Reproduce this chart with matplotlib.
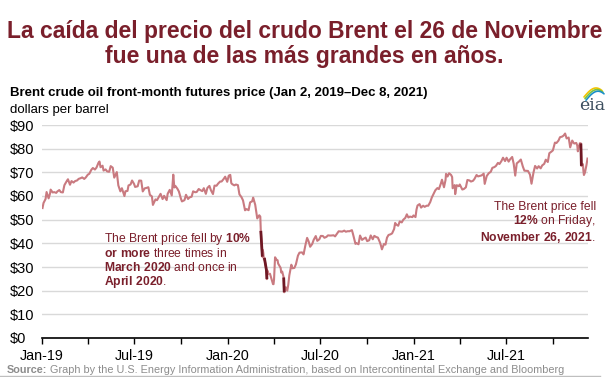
# libraries
import numpy as np
import pandas as pd
import matplotlib
matplotlib.use("Agg")
import matplotlib.pyplot as plt
import matplotlib.dates as mdates
from matplotlib.lines import Line2D

plt.rcParams['font.family'] = ['Liberation Sans', 'DejaVu Sans']
plt.rcParams['mathtext.fontset'] = 'custom'
plt.rcParams['mathtext.rm'] = 'Liberation Sans'
plt.rcParams['mathtext.bf'] = 'Liberation Sans:bold'

# Brent front-month price (dollars per barrel)
dates = [
    "2019-01-02", "2019-01-04", "2019-01-08", "2019-01-10", "2019-01-14", "2019-01-17", "2019-01-18",
    "2019-01-22", "2019-01-25", "2019-01-29", "2019-01-31", "2019-02-04", "2019-02-07", "2019-02-11",
    "2019-02-14", "2019-02-19", "2019-02-21", "2019-02-25", "2019-02-28", "2019-03-04", "2019-03-07",
    "2019-03-11", "2019-03-14", "2019-03-18", "2019-03-21", "2019-03-25", "2019-03-28", "2019-04-01",
    "2019-04-04", "2019-04-08", "2019-04-11", "2019-04-15", "2019-04-18", "2019-04-22", "2019-04-24",
    "2019-04-26", "2019-04-30", "2019-05-02", "2019-05-06", "2019-05-09", "2019-05-13", "2019-05-16",
    "2019-05-20", "2019-05-23", "2019-05-28", "2019-05-31", "2019-06-04", "2019-06-07", "2019-06-12",
    "2019-06-14", "2019-06-18", "2019-06-20", "2019-06-24", "2019-06-27", "2019-07-01", "2019-07-03",
    "2019-07-08", "2019-07-11", "2019-07-15", "2019-07-18", "2019-07-22", "2019-07-25", "2019-07-29",
    "2019-08-01", "2019-08-05", "2019-08-07", "2019-08-12", "2019-08-15", "2019-08-19", "2019-08-22",
    "2019-08-26", "2019-08-29", "2019-09-03", "2019-09-05", "2019-09-09", "2019-09-13", "2019-09-16",
    "2019-09-18", "2019-09-20", "2019-09-24", "2019-09-27", "2019-10-01", "2019-10-03", "2019-10-08",
    "2019-10-11", "2019-10-15", "2019-10-18", "2019-10-22", "2019-10-25", "2019-10-29", "2019-11-01",
    "2019-11-05", "2019-11-08", "2019-11-12", "2019-11-15", "2019-11-19", "2019-11-22", "2019-11-26",
    "2019-11-29", "2019-12-03", "2019-12-06", "2019-12-10", "2019-12-13", "2019-12-17", "2019-12-20",
    "2019-12-24", "2019-12-27", "2019-12-31",
    "2020-01-03", "2020-01-06", "2020-01-08", "2020-01-10", "2020-01-14", "2020-01-17", "2020-01-21",
    "2020-01-24", "2020-01-28", "2020-01-31", "2020-02-04", "2020-02-07", "2020-02-11", "2020-02-14",
    "2020-02-18", "2020-02-20", "2020-02-24", "2020-02-27", "2020-02-28", "2020-03-03", "2020-03-05",
    "2020-03-06", "2020-03-09", "2020-03-10", "2020-03-11", "2020-03-12", "2020-03-13", "2020-03-16",
    "2020-03-17", "2020-03-18", "2020-03-19", "2020-03-20", "2020-03-24", "2020-03-27", "2020-03-30",
    "2020-03-31", "2020-04-01", "2020-04-02", "2020-04-03", "2020-04-06", "2020-04-08", "2020-04-09",
    "2020-04-14", "2020-04-15", "2020-04-17", "2020-04-20", "2020-04-21", "2020-04-22", "2020-04-24",
    "2020-04-27", "2020-04-29", "2020-05-01", "2020-05-05", "2020-05-07", "2020-05-11", "2020-05-14",
    "2020-05-18", "2020-05-21", "2020-05-26", "2020-05-29", "2020-06-02", "2020-06-05", "2020-06-08",
    "2020-06-11", "2020-06-15", "2020-06-18", "2020-06-22", "2020-06-25", "2020-06-29", "2020-07-02",
    "2020-07-06", "2020-07-09", "2020-07-13", "2020-07-16", "2020-07-20", "2020-07-23", "2020-07-27",
    "2020-07-30", "2020-08-03", "2020-08-06", "2020-08-10", "2020-08-13", "2020-08-17", "2020-08-20",
    "2020-08-24", "2020-08-27", "2020-09-01", "2020-09-03", "2020-09-08", "2020-09-10", "2020-09-14",
    "2020-09-17", "2020-09-21", "2020-09-24", "2020-09-28", "2020-10-01", "2020-10-05", "2020-10-08",
    "2020-10-12", "2020-10-15", "2020-10-19", "2020-10-22", "2020-10-26", "2020-10-28", "2020-10-30",
    "2020-11-03", "2020-11-06", "2020-11-09", "2020-11-12", "2020-11-16", "2020-11-19", "2020-11-23",
    "2020-11-25", "2020-11-27", "2020-12-01", "2020-12-04", "2020-12-08", "2020-12-11", "2020-12-15",
    "2020-12-18", "2020-12-21", "2020-12-24", "2020-12-29", "2020-12-31",
    "2021-01-04", "2021-01-06", "2021-01-08", "2021-01-12", "2021-01-15", "2021-01-19", "2021-01-22",
    "2021-01-26", "2021-01-29", "2021-02-02", "2021-02-05", "2021-02-09", "2021-02-12", "2021-02-16",
    "2021-02-19", "2021-02-23", "2021-02-25", "2021-03-01", "2021-03-04", "2021-03-05", "2021-03-08",
    "2021-03-11", "2021-03-15", "2021-03-17", "2021-03-18", "2021-03-22", "2021-03-23", "2021-03-26",
    "2021-03-30", "2021-04-01", "2021-04-06", "2021-04-09", "2021-04-13", "2021-04-16", "2021-04-20",
    "2021-04-23", "2021-04-27", "2021-04-30", "2021-05-04", "2021-05-07", "2021-05-11", "2021-05-14",
    "2021-05-18", "2021-05-20", "2021-05-24", "2021-05-28", "2021-06-01", "2021-06-04", "2021-06-08",
    "2021-06-11", "2021-06-15", "2021-06-18", "2021-06-22", "2021-06-25", "2021-06-29", "2021-07-02",
    "2021-07-06", "2021-07-09", "2021-07-13", "2021-07-16", "2021-07-19", "2021-07-22", "2021-07-26",
    "2021-07-30", "2021-08-03", "2021-08-06", "2021-08-10", "2021-08-13", "2021-08-17", "2021-08-20",
    "2021-08-24", "2021-08-27", "2021-08-31", "2021-09-03", "2021-09-07", "2021-09-10", "2021-09-14",
    "2021-09-17", "2021-09-21", "2021-09-24", "2021-09-28", "2021-10-01", "2021-10-05", "2021-10-08",
    "2021-10-12", "2021-10-15", "2021-10-19", "2021-10-22", "2021-10-25", "2021-10-28", "2021-11-01",
    "2021-11-04", "2021-11-08", "2021-11-10", "2021-11-12", "2021-11-16", "2021-11-18", "2021-11-19",
    "2021-11-23", "2021-11-25", "2021-11-26", "2021-11-29", "2021-11-30", "2021-12-01", "2021-12-03",
    "2021-12-06", "2021-12-08",
]
prices = [
    54.91, 57.06, 58.72, 61.68, 59.00, 61.18, 62.70,
    61.50, 61.64, 61.32, 61.89, 62.51, 61.63, 61.51,
    64.57, 66.45, 67.07, 64.76, 66.31, 65.67, 66.30,
    66.58, 67.23, 67.54, 67.86, 67.21, 67.82, 69.01,
    69.40, 71.10, 71.83, 71.18, 71.97, 74.04, 74.57,
    72.15, 72.80, 70.75, 71.24, 70.39, 70.23, 72.62,
    71.97, 67.76, 70.11, 64.49, 61.97, 63.29, 59.97,
    62.01, 62.14, 64.45, 64.86, 66.55, 65.06, 63.82,
    64.11, 66.52, 66.48, 61.93, 63.26, 63.39, 63.71,
    60.50, 59.81, 56.23, 58.57, 58.23, 59.74, 60.92,
    58.70, 60.08, 58.26, 60.95, 62.59, 60.22, 69.02,
    63.60, 64.28, 63.10, 61.91, 58.89, 57.71, 58.24,
    60.51, 58.74, 59.42, 59.70, 61.98, 61.59, 61.69,
    62.96, 62.51, 62.06, 63.30, 60.91, 63.39, 64.27,
    62.43, 60.82, 64.39, 64.34, 65.22, 66.10, 66.14,
    67.20, 68.16, 66.00,
    68.60, 68.91, 65.44, 64.98, 64.49, 64.85, 64.59,
    60.69, 59.51, 58.16, 53.96, 54.47, 54.01, 57.32,
    57.75, 59.31, 56.30, 52.18, 50.52, 51.86, 51.29,
    45.27, 34.36, 37.22, 35.79, 33.22, 33.85, 30.05,
    28.73, 24.88, 28.47, 26.98, 27.15, 24.93, 22.76,
    22.74, 24.74, 29.94, 34.11, 33.05, 32.84, 31.48,
    29.60, 27.69, 28.08, 25.57, 19.33, 20.37, 21.44,
    19.99, 22.54, 26.44, 30.97, 29.46, 29.63, 31.13,
    34.81, 36.06, 36.17, 35.33, 39.57, 42.30, 40.80,
    38.55, 39.72, 41.51, 43.08, 41.05, 41.71, 43.14,
    43.10, 42.35, 42.72, 43.37, 43.28, 43.31, 43.41,
    42.94, 44.15, 45.09, 44.99, 44.96, 45.37, 44.90,
    45.13, 45.09, 45.58, 44.07, 39.78, 40.06, 39.61,
    43.30, 41.44, 41.94, 42.43, 40.93, 41.29, 43.34,
    41.72, 43.16, 42.62, 42.46, 40.46, 39.12, 37.46,
    39.71, 39.45, 42.40, 43.53, 43.82, 44.20, 46.06,
    48.61, 47.97, 47.42, 49.25, 48.84, 49.97, 50.76,
    52.26, 50.91, 51.29, 51.09, 51.80,
    51.09, 54.30, 55.99, 56.58, 55.10, 55.90, 55.41,
    55.91, 55.88, 57.46, 59.34, 61.09, 62.43, 63.35,
    62.91, 65.37, 66.88, 63.69, 66.74, 69.36, 68.24,
    69.63, 68.88, 68.00, 63.28, 64.62, 60.79, 64.57,
    64.14, 64.86, 62.74, 62.95, 63.67, 66.77, 66.57,
    66.11, 66.42, 67.25, 68.88, 68.28, 68.55, 68.71,
    69.46, 65.11, 68.46, 69.63, 70.25, 71.89, 72.22,
    72.69, 73.99, 73.51, 74.81, 76.18, 74.76, 76.17,
    74.53, 75.55, 76.49, 73.59, 68.62, 73.79, 74.50,
    75.41, 72.41, 70.70, 70.63, 70.59, 69.03, 65.18,
    70.05, 72.70, 71.63, 72.61, 71.69, 72.92, 73.60,
    75.34, 74.36, 78.09, 78.72, 79.28, 82.56, 82.39,
    83.42, 84.86, 85.08, 85.53, 86.40, 84.32, 84.71,
    80.54, 83.43, 82.64, 82.17, 82.43, 81.24, 78.89,
    82.31, 82.22, 72.72, 73.44, 70.57, 68.87, 69.88,
    73.08, 75.82,
]

# big one-day drops (start, end) highlighted in dark red
drop_spans = [("2020-03-06", "2020-03-09"), ("2020-03-13", "2020-03-18"),
              ("2020-04-20", "2020-04-21"), ("2021-11-25", "2021-11-26")]

title = "La caída del precio del crudo Brent el 26 de Noviembre\nfue una de las más grandes en años."
subtitle = "Brent crude oil front-month futures price (Jan 2, 2019\u2013Dec 8, 2021)"
units = "dollars per barrel"

maroon = '#7a1f2b'
light = '#c97a80'
dark = '#6f1824'

s = pd.Series(prices, index=pd.to_datetime(dates))

W, H = 609, 377
fig = plt.figure(figsize=(W / 100, H / 100), dpi=100)
ax = fig.add_axes([42 / W, 1 - 338 / H, (588 - 42) / W, (338 - 125) / H])

ax.plot(s.index, s.values, color=light, lw=1.5, solid_joinstyle='round')
for a, b in drop_spans:
    seg = s[a:b]
    ax.plot(seg.index, seg.values, color=dark, lw=2.0, solid_capstyle='butt')

ax.set_ylim(0, 90)
ax.set_xlim(pd.Timestamp("2019-01-01"), pd.Timestamp("2021-12-09"))
ax.set_yticks(np.arange(0, 91, 10))
ax.yaxis.set_major_formatter(plt.FuncFormatter(lambda v, p: f"${v:.0f}"))
ax.tick_params(axis='y', length=0, pad=23, labelsize=10.5)
for lab in ax.get_yticklabels():
    lab.set_horizontalalignment('left')
ax.grid(axis='y', color='#d9d9d9', lw=1)
ax.set_axisbelow(True)

ax.xaxis.set_major_locator(mdates.MonthLocator(bymonth=[1, 7]))
ax.xaxis.set_minor_locator(mdates.MonthLocator(bymonth=[4, 10]))
ax.xaxis.set_major_formatter(mdates.DateFormatter('%b-%y'))
ax.tick_params(axis='x', which='both', direction='out', length=4, width=1, labelsize=10.3, pad=4)
for sp in ['top', 'right', 'left']:
    ax.spines[sp].set_visible(False)
ax.spines['bottom'].set_linewidth(1.2)

# annotations
ax.text(pd.Timestamp("2019-05-03"), 45.4,
        "The Brent price fell by $\\bf{10\\%}$\n$\\bf{or\\ more}$ three times in\n"
        "$\\bf{March\\ 2020}$ and once in\n$\\bf{April\\ 2020}$.",
        color=maroon, fontsize=8.7, va='top', ha='left', linespacing=1.05)
ax.text(pd.Timestamp("2021-12-24"), 58.0,
        "The Brent price fell\n$\\bf{12\\%}$ on Friday,\n$\\bf{November\\ 26{,}\\ 2021}$.",
        color=maroon, fontsize=8.7, va='top', ha='right', multialignment='right',
        linespacing=1.05, clip_on=False)

# titles
fig.text(0.5, 1 - 44 / H, title, ha='center', va='center', fontsize=16.5,
         fontweight='bold', color=maroon, linespacing=1.15)
fig.text(10 / W, 1 - 93 / H, subtitle, ha='left', va='center', fontsize=9.5,
         fontweight='bold', color='black')
fig.text(10 / W, 1 - 110 / H, units, ha='left', va='center', fontsize=9.5, color='black')

# source line
src_b = fig.text(7 / W, 1 - 370 / H, "Source:", ha='left', va='center', fontsize=7.8,
                 fontweight='bold', color='#8c8c8c')
fig.canvas.draw()
bw = src_b.get_window_extent(fig.canvas.get_renderer()).width
fig.text((7 + bw + 3) / W, 1 - 370 / H,
         "Graph by the U.S. Energy Information Administration, "
         "based on Intercontinental Exchange and Bloomberg",
         ha='left', va='center', fontsize=7.8, color='#8c8c8c')
fig.add_artist(Line2D([0, 0.985], [1 - 376 / H, 1 - 376 / H], color='#bfbfbf', lw=1))

# eia logo (pixel-like coordinates, y measured upward)
lg = fig.add_axes([575 / W, 1 - 116 / H, 34 / W, 32 / H])
lg.set_xlim(575, 609)
lg.set_ylim(377 - 116, 377 - 84)
lg.axis('off')
t = np.linspace(0, 1, 30)
for k, c in enumerate(['#f2c500', '#7ac143', '#1a8fc9']):
    xs = 584 + 18 * t + k * 1.0
    ys = 377 - (97 - 9 * np.sin(t * np.pi * 0.75) + k * 1.6)
    lg.plot(xs, ys, color=c, lw=1.2, solid_capstyle='round')
lg.text(592, 377 - 105, "eia", ha='center', va='center', fontsize=12.5,
        family='DejaVu Serif', color='#3d4f5f')

fig.savefig("out.png", dpi=100)
